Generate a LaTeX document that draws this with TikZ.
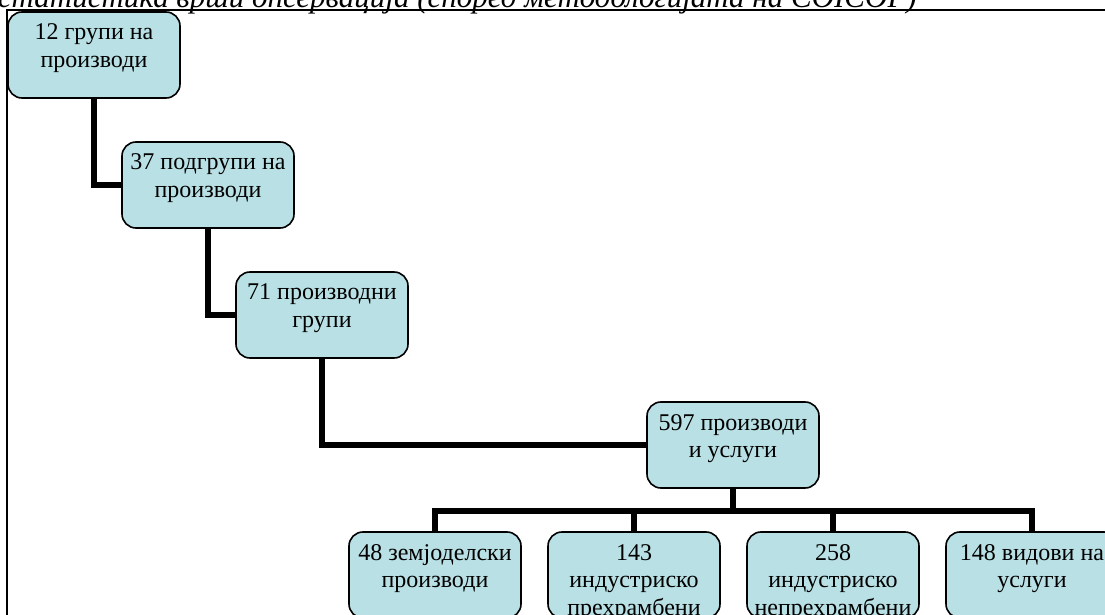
\documentclass[tikz,border=0pt]{standalone}
\usepackage{fontspec}
\setmainfont{Liberation Serif}
\definecolor{boxfill}{RGB}{185,224,228}
\begin{document}
\begin{tikzpicture}[x=1bp,y=-1bp,
  box/.style={draw=black,line width=1.6bp,fill=boxfill,rounded corners=14bp,
    minimum width=172bp,minimum height=86bp,inner sep=0pt},
  txt/.style={align=center,inner sep=0pt,anchor=base,
    font=\fontsize{24bp}{27.5bp}\selectfont},
  conn/.style={line width=5.5bp,black}]
\clip (0,0) rectangle (1105,615);
\useasboundingbox (0,0) rectangle (1105,615);
% caption (cut off at top)
\node[anchor=base east,inner sep=0pt,font=\fontsize{31bp}{36bp}\selectfont\itshape] (cap) at (917,8)
  {статистика врши опсервација (според методологијата на COICOP)};
% frame
\draw[line width=1.5bp] (7,640) -- (7,10) -- (1120,10);
% boxes
\node[box] (b1) at (94,55) {};
\node[box] (b2) at (208,185) {};
\node[box] (b3) at (322,315) {};
\node[box] (b4) at (733,445) {};
\node[box] (b5) at (435,575) {};
\node[box] (b6) at (634,575) {};
\node[box] (b7) at (833,575) {};
\node[box] (b8) at (1032,575) {};
% texts (anchored at the baseline of the last line)
\node[txt] (t1) at (94,67.5) {12 групи на\\производи};
\node[txt] (t2) at (208,197.5) {37 подгрупи на\\производи};
\node[txt] (t3) at (322,327.5) {71 производни\\групи};
\node[txt] (t4) at (733,457.5) {597 производи\\и услуги};
\node[txt] (t5) at (435,587.5) {48 земјоделски\\производи};
\node[txt] (t6) at (634,615) {143\\индустриско\\прехрамбени};
\node[txt] (t7) at (833,615) {258\\индустриско\\непрехрамбени};
\node[txt] (t8) at (1032,587.5) {148 видови на\\услуги};
% connectors
\draw[conn] (b1.south) |- (b2.west);
\draw[conn] (b2.south) |- (b3.west);
\draw[conn] (b3.south) |- (b4.west);
\coordinate (bus) at (733,511);
\draw[conn] (b4.south) -- (bus);
\draw[conn] (b5.north) |- (bus) -| (b8.north);
\draw[conn] (b6.north) -- (b6.north |- bus);
\draw[conn] (b7.north) -- (b7.north |- bus);
\end{tikzpicture}
\end{document}
